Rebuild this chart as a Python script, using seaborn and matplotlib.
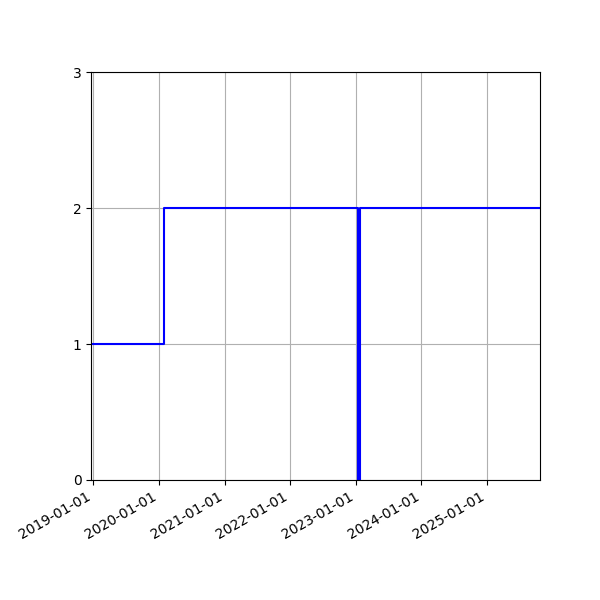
import matplotlib
matplotlib.use("Agg")
import matplotlib.pyplot as plt
import matplotlib.dates as mdates
import pandas as pd
import seaborn as sns

dates = ["2018-12-21", "2020-01-29", "2023-01-13", "2023-01-24", "2025-10-22"]
values = [1, 2, 0, 2, 2]

df = pd.DataFrame({"date": pd.to_datetime(dates), "value": values})

fig, ax = plt.subplots(figsize=(6, 6), dpi=100)
fig.subplots_adjust(left=0.152, right=0.9, top=0.88, bottom=0.2)
sns.lineplot(data=df, x="date", y="value", drawstyle="steps-post", color="blue", linewidth=1.5, ax=ax)
ax.set_xlim(df["date"].min(), df["date"].max())
ax.set_ylim(0, 3)
ax.set_yticks([0, 1, 2, 3])
ax.xaxis.set_major_locator(mdates.YearLocator())
ax.xaxis.set_major_formatter(mdates.DateFormatter("%Y-%m-%d"))
ax.grid(True)
ax.set_xlabel("")
ax.set_ylabel("")
for lbl in ax.get_xticklabels():
    lbl.set_rotation(30)
    lbl.set_ha("right")
fig.savefig("out.png")
